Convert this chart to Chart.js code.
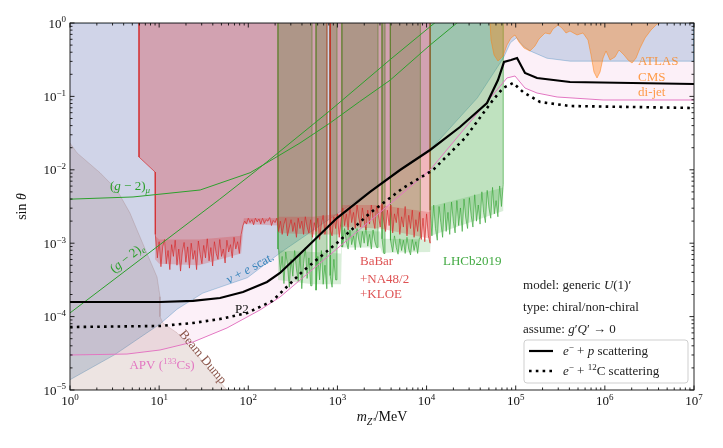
<!DOCTYPE html>
<html>
<head>
<meta charset="utf-8">
<title>U(1)' limits</title>
<script src="https://cdn.jsdelivr.net/npm/chart.js@4.4.1/dist/chart.umd.min.js"></script>
<style>
  html, body { margin: 0; padding: 0; background: #fff; }
  canvas { display: block; }
</style>
</head>
<body>
<canvas id="chart" width="723" height="448"></canvas>
<script>
// all values are log10(m / MeV) and log10(sin theta)

// axis decades
const xTickExp = [0, 1, 2, 3, 4, 5, 6, 7];
const yTickExp = [-5, -4, -3, -2, -1, 0];
const minorSteps = [2, 3, 4, 5, 6, 7, 8, 9];

// P2 reach, e- + p scattering (solid)
const epLogM = [0, 1.01, 1.38, 1.683, 1.941, 2.21, 2.356, 2.614, 2.995, 3.366, 3.702, 4.039, 4.375, 4.678, 4.801, 4.869, 4.947, 5.015, 5.104, 5.239, 5.609, 7];
const epLogS = [-3.801, -3.801, -3.787, -3.747, -3.665, -3.529, -3.406, -3.106, -2.657, -2.302, -2.003, -1.730, -1.417, -1.090, -0.777, -0.531, -0.504, -0.477, -0.681, -0.749, -0.804, -0.831];

// e- + 12C scattering (dotted)
const ecLogM = [0, 1.01, 1.38, 1.683, 1.986, 2.27, 2.614, 2.995, 3.366, 3.736, 4.072, 4.431, 4.745, 4.858, 4.970, 5.082, 5.273, 5.609, 7];
const ecLogS = [-4.142, -4.128, -4.087, -4.033, -3.951, -3.787, -3.379, -2.997, -2.589, -2.248, -2.003, -1.567, -1.049, -0.886, -0.817, -0.940, -1.076, -1.131, -1.158];

// APV (133Cs)
const apvLogM = [0, 0.639, 1.01, 1.38, 1.761, 2.131, 2.356, 4.039, 4.431, 4.790, 4.902, 4.992, 5.104, 5.239, 5.464, 5.980, 7];
const apvLogS = [-4.523, -4.510, -4.455, -4.346, -4.155, -3.910, -3.733, -2.003, -1.431, -0.913, -0.749, -0.722, -0.886, -0.954, -1.008, -1.049, -1.049];

// (g-2)_e and (g-2)_mu
const g2eLogM = [0, 1.68, 2.10, 2.92, 3.59, 4.04, 4.12];
const g2eLogS = [-3.95, -2.40, -2.00, -1.19, -0.50, -0.05, 0.03];
const g2muLogM = [0, 0.707, 1.46, 2.02, 2.58, 2.92, 3.25, 3.59, 4.04, 4.34, 4.40];
const g2muLogS = [-2.40, -2.37, -2.275, -2.04, -1.635, -1.36, -1.07, -0.78, -0.30, 0.0, 0.05];

// nu + e scattering, lower edge of the excluded region
const nueLogM = [0, 0.5, 1.01, 1.2, 1.49, 1.99, 2.36, 4.04, 4.57, 4.86, 4.94, 5.01, 5.08, 5.16, 5.35, 5.61, 7];
const nueLogS = [-4.86, -4.52, -4.1, -3.9, -3.68, -3.47, -3.13, -1.73, -1.02, -0.48, -0.27, -0.20, -0.31, -0.38, -0.48, -0.52, -0.52];

// beam dump, outline of the excluded region
const dumpLogM = [0, 0.079, 0.337, 0.527, 0.673, 0.752, 0.976, 1.01, 1.01, 1.043, 1.20, 1.38, 1.57, 1.76, 0];
const dumpLogS = [-1.635, -1.77, -2.04, -2.275, -2.59, -2.82, -3.46, -3.73, -4.0, -4.09, -4.22, -4.455, -4.73, -5.0, -5.0];

// BaBar + NA48/2 + KLOE: left corner and noisy lower edge
const redCornerLogM = [0.774, 0.774, 0.954];
const redCornerLogS = [0, -1.826, -2.03];
const redEdgeLogM = [
  0.96, 0.98, 1.00, 1.02, 1.04, 1.06, 1.08, 1.10, 1.12, 1.14,
  1.16, 1.18, 1.20, 1.22, 1.24, 1.26, 1.28, 1.30, 1.32, 1.34,
  1.36, 1.38, 1.40, 1.42, 1.44, 1.46, 1.48, 1.50, 1.52, 1.54,
  1.56, 1.58, 1.60, 1.62, 1.64, 1.66, 1.68, 1.70, 1.72, 1.74,
  1.76, 1.78, 1.80, 1.82, 1.84, 1.86, 1.88, 1.90, 1.92, 1.94,
  1.96, 1.98, 2.00, 2.02, 2.04, 2.06, 2.08, 2.10, 2.12, 2.14,
  2.16, 2.18, 2.20, 2.22, 2.24, 2.26, 2.28, 2.30, 2.32, 2.34,
  2.36, 2.38, 2.40, 2.42, 2.44, 2.46, 2.48, 2.50, 2.52, 2.54,
  2.56, 2.58, 2.60, 2.62, 2.64, 2.66, 2.68, 2.70, 2.72, 2.74,
  2.76, 2.78, 2.80, 2.82, 2.84, 2.86, 2.88, 2.90, 2.92, 2.94,
  2.96, 2.98, 3.00, 3.02, 3.04, 3.06, 3.08, 3.10, 3.12, 3.14,
  3.16, 3.18, 3.20, 3.22, 3.24, 3.26, 3.28, 3.30, 3.32, 3.34,
  3.36, 3.38, 3.40, 3.42, 3.44, 3.46, 3.48, 3.50, 3.52, 3.54,
  3.56, 3.58, 3.60, 3.62, 3.64, 3.66, 3.68, 3.70, 3.72, 3.74,
  3.76, 3.78, 3.80, 3.82, 3.84, 3.86, 3.88, 3.90, 3.92, 3.94,
  3.96, 3.98, 4.00, 4.02, 4.04];
const redEdgeLogS = [
  -2.88, -3.20, -2.98, -3.32, -3.05, -2.95, -3.28, -3.10, -3.36, -3.02,
  -3.18, -2.96, -3.30, -3.08, -3.38, -3.12, -2.99, -3.26, -3.05, -3.34,
  -3.00, -3.22, -3.10, -3.36, -2.97, -3.15, -3.28, -3.03, -3.20, -2.94,
  -3.24, -3.06, -3.31, -2.98, -3.14, -3.22, -2.95, -3.18, -3.08, -3.27,
  -2.96, -3.12, -3.02, -3.20, -2.92, -3.08, -2.98, -3.14, -2.88, -2.76,
  -2.70, -2.74, -2.66, -2.72, -2.68, -2.75, -2.66, -2.71, -2.67, -2.74,
  -2.66, -2.73, -2.68, -2.70, -2.65, -2.76, -2.69, -2.72, -2.66, -2.84,
  -2.70, -2.88, -2.74, -2.66, -2.90, -2.78, -2.68, -2.84, -2.72, -2.92,
  -2.66, -2.80, -2.70, -2.88, -2.64, -2.78, -2.86, -2.68, -2.92, -2.72,
  -2.84, -2.66, -2.95, -2.74, -2.62, -2.88, -2.70, -2.66, -2.82, -2.90,
  -2.64, -2.80, -2.60, -2.92, -2.70, -2.52, -2.76, -2.60, -2.82, -2.50,
  -2.72, -2.58, -2.80, -2.48, -2.66, -2.78, -2.52, -2.70, -2.82, -2.55,
  -2.74, -2.48, -2.68, -2.80, -2.50, -2.62, -2.78, -2.46, -2.70, -2.84,
  -2.55, -2.76, -2.48, -2.86, -2.60, -2.72, -2.52, -2.88, -2.64, -2.78,
  -2.50, -2.90, -2.62, -2.80, -2.55, -2.92, -2.68, -2.84, -2.58, -2.95,
  -2.66, -2.98, -2.60, -2.90, -3.00];
const redRanges = [[0.954, 2.883], [2.917, 4.04]];
// where the noise of that edge is densest
const redBandLogM = [0.954, 1.00, 1.45, 1.92, 1.95, 2.33, 2.34, 2.73, 3.03, 3.05, 3.48, 4.04];
const redBandHiLogS = [-2.90, -2.95, -2.95, -2.90, -2.66, -2.66, -2.64, -2.64, -2.60, -2.48, -2.48, -2.58];
const redBandLoLogS = [-3.22, -3.28, -3.30, -3.14, -2.74, -2.76, -2.86, -2.88, -2.88, -2.78, -2.80, -2.94];

// LHCb2019: noisy lower edge, and mass windows where it sets a limit
const lhcbEdgeLogM = [
  2.34, 2.36, 2.38, 2.40, 2.42, 2.44, 2.46, 2.48, 2.50, 2.52,
  2.54, 2.56, 2.58, 2.60, 2.62, 2.64, 2.66, 2.68, 2.70, 2.72,
  2.74, 2.76, 2.78, 2.80, 2.82, 2.84, 2.86, 2.88, 2.90, 2.92,
  2.94, 2.96, 2.98, 3.00, 3.02, 3.04, 3.06, 3.08, 3.10, 3.12,
  3.14, 3.16, 3.18, 3.20, 3.22, 3.24, 3.26, 3.28, 3.30, 3.32,
  3.34, 3.36, 3.38, 3.40, 3.42, 3.44, 3.46, 3.48, 3.50, 3.52,
  3.54, 3.56, 3.58, 3.60, 3.62, 3.64, 3.66, 3.68, 3.70, 3.72,
  3.74, 3.76, 3.78, 3.80, 3.82, 3.84, 3.86, 3.88, 3.90, 3.92,
  3.94, 3.96, 3.98, 4.00, 4.02, 4.04, 4.06, 4.08, 4.10, 4.12,
  4.14, 4.16, 4.18, 4.20, 4.22, 4.24, 4.26, 4.28, 4.30, 4.32,
  4.34, 4.36, 4.38, 4.40, 4.42, 4.44, 4.46, 4.48, 4.50, 4.52,
  4.54, 4.56, 4.58, 4.60, 4.62, 4.64, 4.66, 4.68, 4.70, 4.72,
  4.74, 4.76, 4.78, 4.80, 4.82, 4.84, 4.86];
const lhcbEdgeLogS = [
  -3.08, -3.40, -3.18, -3.55, -3.12, -3.30, -3.60, -3.22, -3.45, -3.10,
  -3.35, -3.52, -3.15, -3.62, -3.28, -3.06, -3.48, -3.20, -3.58, -3.14,
  -3.40, -3.64, -3.18, -3.50, -3.10, -3.56, -3.30, -3.62, -3.16, -3.44,
  -3.60, -3.22, -3.50, -3.12, -3.48, -2.86, -3.05, -2.80, -2.98, -3.08,
  -2.82, -3.02, -2.90, -3.09, -2.80, -2.96, -3.06, -2.84, -3.00, -2.78,
  -3.04, -2.88, -3.08, -2.82, -2.98, -3.06, -2.86, -3.12, -2.94, -3.14,
  -2.92, -3.10, -3.16, -2.96, -3.12, -2.90, -3.06, -3.15, -2.94, -3.10,
  -2.96, -3.14, -2.92, -3.08, -3.16, -2.95, -3.10, -2.98, -3.14, -2.93,
  -3.08, -3.14, -2.96, -3.10, -2.98, -2.55, -2.90, -2.48, -2.80, -2.96,
  -2.50, -2.72, -2.92, -2.46, -2.84, -2.58, -2.88, -2.44, -2.70, -2.86,
  -2.42, -2.76, -2.52, -2.84, -2.40, -2.66, -2.80, -2.38, -2.62, -2.78,
  -2.34, -2.70, -2.48, -2.74, -2.30, -2.58, -2.72, -2.28, -2.52, -2.66,
  -2.24, -2.60, -2.42, -2.64, -2.22, -2.50, -2.20];
const lhcbRanges = [[2.333, 2.715], [2.76, 2.883], [2.917, 2.995], [3.05, 3.455], [3.50, 3.534], [3.59, 3.93], [4.04, 4.86]];
const lhcbBandLogM = [2.333, 2.72, 3.04, 3.05, 3.48, 3.50, 4.04, 4.05, 4.86];
const lhcbBandHiLogS = [-3.10, -3.12, -3.14, -2.82, -2.84, -2.94, -2.95, -2.50, -2.24];
const lhcbBandLoLogS = [-3.50, -3.56, -3.56, -3.06, -3.06, -3.13, -3.12, -2.90, -2.56];

// ATLAS / CMS di-jet, lower edge (hangs from the top)
const dijetLogM = [4.712, 4.723, 4.757, 4.801, 4.858, 4.902, 4.947, 4.992, 5.037, 5.093, 5.160, 5.216, 5.261, 5.329, 5.385, 5.418, 5.475, 5.519, 5.564, 5.609,
  5.688, 5.755, 5.811, 5.845, 5.878, 5.912, 5.946, 5.980, 6.013, 6.058, 6.114, 6.159, 6.215, 6.260, 6.305, 6.350, 6.395, 6.451, 6.518, 6.585, 6.619];
const dijetLogS = [0, -0.232, -0.436, -0.518, -0.450, -0.300, -0.204, -0.163, -0.259, -0.341, -0.381, -0.313, -0.218, -0.136, -0.150, -0.082, -0.027, -0.068, -0.136, -0.109,
  -0.163, -0.136, -0.232, -0.436, -0.668, -0.749, -0.668, -0.477, -0.381, -0.504, -0.463, -0.368, -0.436, -0.504, -0.545, -0.477, -0.341, -0.204, -0.095, -0.014, 0];

const SERIF = '"Liberation Serif", "Times New Roman", serif';

const zip = (lm, ls) => lm.map((m, i) => [m, ls[i]]);
const toPts = (pairs) => pairs.map(([m, s]) => ({ x: 10 ** m, y: 10 ** s }));
const band = (lm, hi, lo) => [...zip(lm, hi), ...zip(lm, lo).reverse()];

function edgeSegment(edgeM, edgeS, a, b) {
  const keep = [];
  edgeM.forEach((m, i) => { if (m >= a - 1e-6 && m <= b + 1e-6) keep.push([m, edgeS[i]]); });
  return [[a, 0], [a, keep[0][1]], ...keep, [b, keep[keep.length - 1][1]], [b, 0]];
}

function shape(pairs, fill, border, width) {
  return {
    data: toPts(pairs), showLine: true, fill: 'shape', backgroundColor: fill,
    borderColor: border || 'rgba(0,0,0,0)', borderWidth: border ? (width || 1) : 0,
    pointRadius: 0, clip: 0,
  };
}

function curve(lm, ls, color, width, dash) {
  return {
    data: toPts(zip(lm, ls)), showLine: true, fill: false, borderColor: color, borderWidth: width,
    borderDash: dash || [], borderCapStyle: 'butt', pointRadius: 0, clip: 0,
  };
}

// bottom to top
const layers = [];
layers.push(shape([[0, 0], [7, 0], ...zip(apvLogM, apvLogS).reverse()], 'rgba(227,119,194,0.11)'));
layers.push(shape([[0, 0], [7, 0], ...zip(nueLogM, nueLogS).reverse()], 'rgba(50,110,175,0.22)', 'rgba(31,119,180,0.3)'));
layers.push(shape(zip(dumpLogM, dumpLogS), 'rgba(140,86,75,0.16)', 'rgba(140,86,75,0.2)'));
lhcbRanges.forEach(([a, b]) => {
  layers.push(shape(edgeSegment(lhcbEdgeLogM, lhcbEdgeLogS, a, b), 'rgba(44,160,44,0.3)', 'rgba(44,160,44,0.6)', 1));
});
layers.push(shape(band(lhcbBandLogM, lhcbBandHiLogS, lhcbBandLoLogS), 'rgba(44,160,44,0.18)'));
redRanges.forEach(([a, b], k) => {
  let pts = edgeSegment(redEdgeLogM, redEdgeLogS, a, b);
  if (k === 0) pts = [...zip(redCornerLogM, redCornerLogS), ...pts.slice(1)];
  layers.push(shape(pts, 'rgba(214,39,40,0.29)', 'rgba(214,39,40,0.68)', 1));
});
layers.push(shape(band(redBandLogM, redBandHiLogS, redBandLoLogS), 'rgba(214,39,40,0.22)'));
layers.push(shape(zip(dijetLogM, dijetLogS), 'rgba(255,127,14,0.38)', 'rgba(255,127,14,0.5)'));
layers.push(curve(apvLogM, apvLogS, '#e377c2', 1));
layers.push(curve(g2eLogM, g2eLogS, '#2ca02c', 1));
layers.push(curve(g2muLogM, g2muLogS, '#2ca02c', 1));
layers.push(curve(ecLogM, ecLogS, '#000', 2.6, [2.6, 4.2]));
layers.push(curve(epLogM, epLogS, '#000', 2.2));
layers.forEach((d, i) => { d.order = layers.length - i; });

// text pieces: [text, kind]; kind r roman, i italic, u sup, d sub, iu/id italic sup/sub
function fontOf(k, size) {
  const small = k.includes('u') || k.includes('d');
  return (k.includes('i') ? 'italic ' : '') + (small ? Math.round(size * 0.7) : size) + 'px ' + SERIF;
}
function richWidth(ctx, parts, size) {
  let w = 0;
  parts.forEach(([t, k]) => { ctx.font = fontOf(k, size); w += ctx.measureText(t).width; });
  return w;
}
function drawRich(ctx, parts, x, y, size, color, align) {
  const w = richWidth(ctx, parts, size);
  let cx = align === 'center' ? x - w / 2 : align === 'right' ? x - w : x;
  ctx.fillStyle = color;
  ctx.textBaseline = 'alphabetic';
  ctx.textAlign = 'left';
  parts.forEach(([t, k]) => {
    ctx.font = fontOf(k, size);
    const dy = k.includes('u') ? -size * 0.4 : k.includes('d') ? size * 0.25 : 0;
    ctx.fillText(t, cx, y + dy);
    cx += ctx.measureText(t).width;
  });
}

const expText = (e) => (e < 0 ? '\u2212' + (-e) : String(e));

const decor = {
  id: 'decor',
  afterDraw(chart) {
    const ctx = chart.ctx;
    const a = chart.chartArea;
    const X = (lm) => chart.scales.x.getPixelForValue(10 ** lm);
    const Y = (ls) => chart.scales.y.getPixelForValue(10 ** ls);
    ctx.save();

    // frame and inward ticks on all four sides
    ctx.strokeStyle = '#111';
    ctx.lineWidth = 0.9;
    ctx.strokeRect(a.left, a.top, a.right - a.left, a.bottom - a.top);
    ctx.beginPath();
    xTickExp.forEach((e) => {
      const px = X(e);
      ctx.moveTo(px, a.bottom); ctx.lineTo(px, a.bottom - 4.5);
      ctx.moveTo(px, a.top); ctx.lineTo(px, a.top + 4.5);
      if (e < 7) minorSteps.forEach((s) => {
        const mx = X(e + Math.log10(s));
        ctx.moveTo(mx, a.bottom); ctx.lineTo(mx, a.bottom - 2.5);
        ctx.moveTo(mx, a.top); ctx.lineTo(mx, a.top + 2.5);
      });
    });
    yTickExp.forEach((e) => {
      const py = Y(e);
      ctx.moveTo(a.left, py); ctx.lineTo(a.left + 4.5, py);
      ctx.moveTo(a.right, py); ctx.lineTo(a.right - 4.5, py);
      if (e < 0) minorSteps.forEach((s) => {
        const my = Y(e + Math.log10(s));
        ctx.moveTo(a.left, my); ctx.lineTo(a.left + 2.5, my);
        ctx.moveTo(a.right, my); ctx.lineTo(a.right - 2.5, my);
      });
    });
    ctx.stroke();

    // tick labels
    xTickExp.forEach((e) => drawRich(ctx, [['10', 'r'], [expText(e), 'u']], X(e), a.bottom + 15, 13, '#111', 'center'));
    yTickExp.forEach((e) => drawRich(ctx, [['10', 'r'], [expText(e), 'u']], a.left - 4, Y(e) + 4.5, 13, '#111', 'right'));

    // axis titles
    drawRich(ctx, [['m', 'i'], ['Z\u2032', 'id'], ['/MeV', 'r']], (a.left + a.right) / 2, a.bottom + 31, 14, '#111', 'center');
    ctx.save();
    ctx.translate(a.left - 44, (a.top + a.bottom) / 2);
    ctx.rotate(-Math.PI / 2);
    drawRich(ctx, [['sin ', 'r'], ['\u03b8', 'i']], 0, 0, 14, '#111', 'center');
    ctx.restore();

    const rot = (parts, lm, ls, deg, color) => {
      ctx.save();
      ctx.translate(X(lm), Y(ls));
      ctx.rotate(deg * Math.PI / 180);
      drawRich(ctx, parts, 0, 4, 13, color, 'center');
      ctx.restore();
    };

    // region labels
    drawRich(ctx, [['(', 'r'], ['g', 'i'], [' \u2212 2)', 'r'], ['\u03bc', 'id']], X(0.449), Y(-2.275), 13, '#2ca02c', 'left');
    rot([['(', 'r'], ['g', 'i'], [' \u2212 2)', 'r'], ['e', 'id']], 0.639, -3.20, -38.5, '#2ca02c');
    rot([['\u03bd', 'i'], [' + ', 'r'], ['e', 'i'], [' scat.', 'r']], 2.02, -3.34, -28, 'rgba(31,119,180,0.85)');
    rot([['Beam Dump', 'r']], 1.492, -4.55, 50, '#8c564b');
    drawRich(ctx, [['P2', 'r']], X(1.851), Y(-3.951), 13, '#111', 'left');
    drawRich(ctx, [['APV (', 'r'], ['133', 'u'], ['Cs)', 'r']], X(1.032), Y(-4.714), 13, '#e377c2', 'center');
    drawRich(ctx, [['BaBar', 'r']], X(3.253), Y(-3.297), 13, 'rgba(214,39,40,0.8)', 'left');
    drawRich(ctx, [['+NA48/2', 'r']], X(3.253), Y(-3.542), 13, 'rgba(214,39,40,0.8)', 'left');
    drawRich(ctx, [['+KLOE', 'r']], X(3.253), Y(-3.747), 13, 'rgba(214,39,40,0.8)', 'left');
    drawRich(ctx, [['LHCb2019', 'r']], X(4.184), Y(-3.297), 13, 'rgba(44,160,44,0.9)', 'left');
    drawRich(ctx, [['ATLAS', 'r']], X(6.372), Y(-0.572), 13, 'rgba(255,127,14,0.75)', 'left');
    drawRich(ctx, [['CMS', 'r']], X(6.372), Y(-0.790), 13, 'rgba(255,127,14,0.75)', 'left');
    drawRich(ctx, [['di-jet', 'r']], X(6.372), Y(-0.995), 13, 'rgba(255,127,14,0.75)', 'left');

    // model notes
    drawRich(ctx, [['model: generic ', 'r'], ['U', 'i'], ['(1)\u2032', 'r']], X(5.082), Y(-3.624), 13, '#222', 'left');
    drawRich(ctx, [['type: chiral/non-chiral', 'r']], X(5.082), Y(-3.924), 13, '#222', 'left');
    drawRich(ctx, [['assume: ', 'r'], ['g', 'i'], ['\u2032', 'r'], ['Q', 'i'], ['\u2032 \u2192 0', 'r']], X(5.082), Y(-4.223), 13, '#222', 'left');

    // legend
    const lx = a.right - 170, ly = a.bottom - 50, lw = 164, lh = 43;
    ctx.beginPath();
    ctx.roundRect(lx, ly, lw, lh, 3);
    ctx.fillStyle = 'rgba(255,255,255,0.85)';
    ctx.fill();
    ctx.strokeStyle = '#cfcfcf';
    ctx.lineWidth = 1;
    ctx.stroke();
    const ep = chart.data.datasets[layers.length - 1];
    const ec = chart.data.datasets[layers.length - 2];
    [[ep, 11, [['e', 'i'], ['\u2212', 'u'], [' + ', 'r'], ['p', 'i'], [' scattering', 'r']]],
     [ec, 31, [['e', 'i'], ['\u2212', 'u'], [' + ', 'r'], ['12', 'u'], ['C scattering', 'r']]]].forEach(([ds, dy, parts]) => {
      ctx.beginPath();
      ctx.strokeStyle = ds.borderColor;
      ctx.lineWidth = ds.borderWidth;
      ctx.setLineDash(ds.borderDash);
      ctx.moveTo(lx + 5, ly + dy); ctx.lineTo(lx + 29, ly + dy);
      ctx.stroke();
      ctx.setLineDash([]);
      drawRich(ctx, parts, lx + 39, ly + dy + 4, 13, '#222', 'left');
    });
    ctx.restore();
  },
};

new Chart(document.getElementById('chart'), {
  type: 'scatter',
  data: { datasets: layers },
  options: {
    responsive: false,
    animation: false,
    events: [],
    layout: { padding: { left: 70, right: 29, top: 23, bottom: 58 } },
    scales: {
      x: { type: 'logarithmic', min: 1, max: 1e7, display: false },
      y: { type: 'logarithmic', min: 1e-5, max: 1, display: false },
    },
    plugins: { legend: { display: false }, tooltip: { enabled: false } },
  },
  plugins: [decor],
});
</script>
</body>
</html>
